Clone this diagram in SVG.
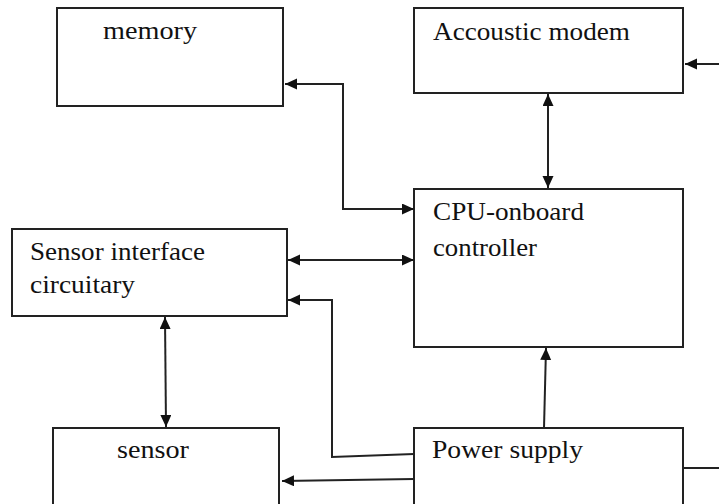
<svg xmlns="http://www.w3.org/2000/svg" width="719" height="504" viewBox="0 0 719 504">
  <style>
    .box { fill: #ffffff; stroke: #222222; stroke-width: 2; }
    .label { font-family: "Liberation Serif", "Times New Roman", serif; font-size: 26px; fill: #111111; }
    .wire { fill: none; stroke: #222222; stroke-width: 2; }
  </style>
  <defs>
    <marker id="head" markerUnits="userSpaceOnUse" markerWidth="13" markerHeight="12" refX="12" refY="5.5" orient="auto-start-reverse">
      <path d="M0,0 L12,5.5 L0,11 Z" fill="#111111"/>
    </marker>
  </defs>

  <rect width="719" height="504" fill="#ffffff"/>

  <g id="memory">
    <rect class="box" x="57" y="8" width="226" height="98"/>
    <text class="label" x="103" y="39" textLength="94" lengthAdjust="spacingAndGlyphs">memory</text>
  </g>

  <g id="acoustic-modem">
    <rect class="box" x="414" y="8" width="269" height="85"/>
    <text class="label" x="433" y="40" textLength="197" lengthAdjust="spacingAndGlyphs">Accoustic modem</text>
  </g>

  <g id="cpu">
    <rect class="box" x="414" y="189" width="269" height="158"/>
    <text class="label" x="433" y="220" textLength="151" lengthAdjust="spacingAndGlyphs">CPU-onboard</text>
    <text class="label" x="433" y="256" textLength="104" lengthAdjust="spacingAndGlyphs">controller</text>
  </g>

  <g id="sensor-interface">
    <rect class="box" x="12" y="229" width="275" height="87"/>
    <text class="label" x="30" y="260" textLength="175" lengthAdjust="spacingAndGlyphs">Sensor interface</text>
    <text class="label" x="30" y="293" textLength="105" lengthAdjust="spacingAndGlyphs">circuitary</text>
  </g>

  <g id="sensor">
    <rect class="box" x="53" y="428" width="226" height="90"/>
    <text class="label" x="117" y="458" textLength="72" lengthAdjust="spacingAndGlyphs">sensor</text>
  </g>

  <g id="power-supply">
    <rect class="box" x="414" y="428" width="269" height="90"/>
    <text class="label" x="432" y="458" textLength="151" lengthAdjust="spacingAndGlyphs">Power supply</text>
  </g>

  <g id="connectors">
    <!-- memory <-> CPU -->
    <path class="wire" d="M414,209 H343 V84 H285" marker-start="url(#head)" marker-end="url(#head)"/>
    <!-- external link into modem -->
    <path class="wire" d="M719,64 H685" marker-end="url(#head)"/>
    <!-- modem <-> CPU -->
    <path class="wire" d="M548,94 V188" marker-start="url(#head)" marker-end="url(#head)"/>
    <!-- sensor interface <-> CPU -->
    <path class="wire" d="M288,260 H414" marker-start="url(#head)" marker-end="url(#head)"/>
    <!-- power supply -> sensor interface -->
    <path class="wire" d="M414,454 L332,457 V300 H288" marker-end="url(#head)"/>
    <!-- power supply -> sensor -->
    <path class="wire" d="M414,479 L282,481" marker-end="url(#head)"/>
    <!-- sensor interface <-> sensor -->
    <path class="wire" d="M165,317 L166,427" marker-start="url(#head)" marker-end="url(#head)"/>
    <!-- power supply -> CPU -->
    <path class="wire" d="M544,428 L546,348" marker-end="url(#head)"/>
    <!-- power supply outgoing line -->
    <path class="wire" d="M683,468 H719"/>
  </g>
</svg>
